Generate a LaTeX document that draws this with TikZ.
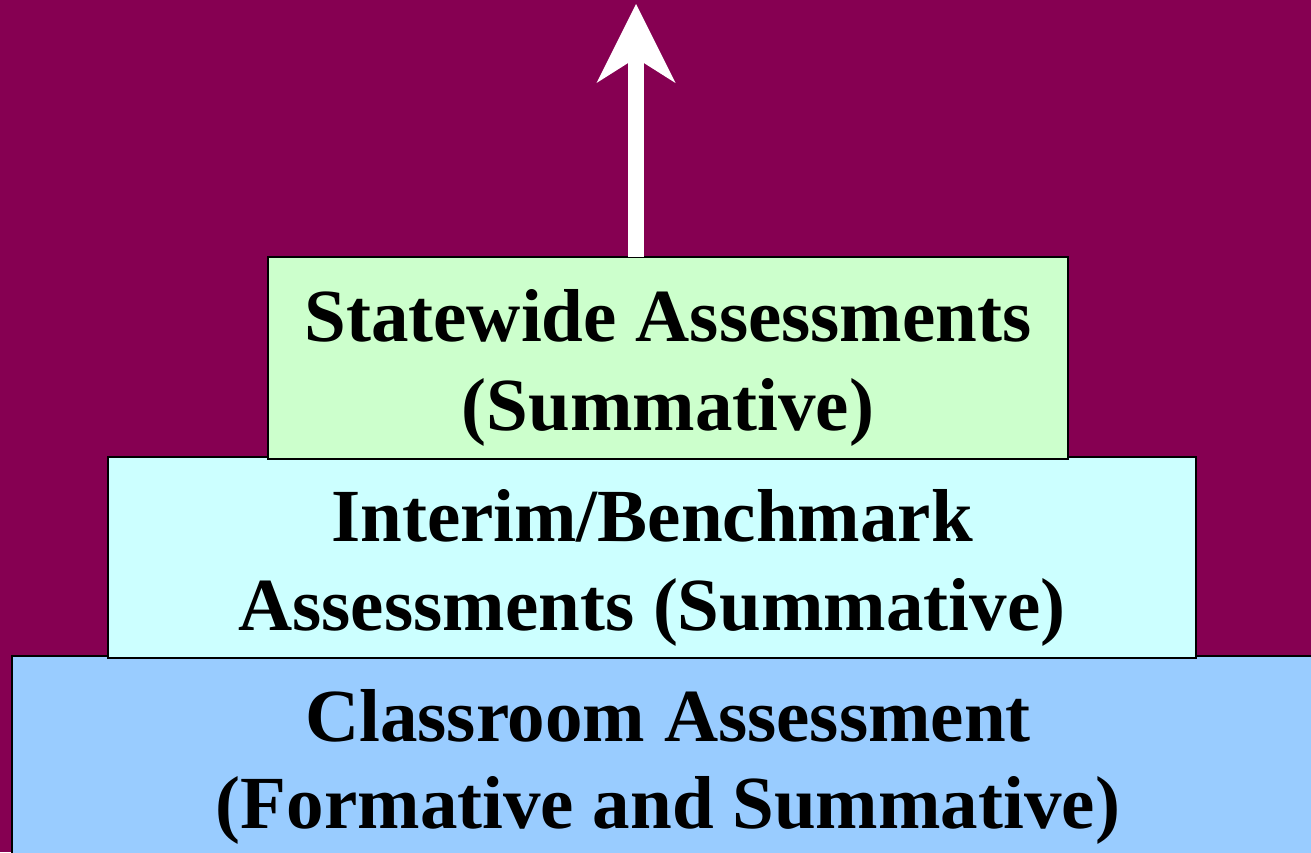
\documentclass[tikz,border=0pt]{standalone}
\usepackage{fontspec}
\setmainfont{Liberation Serif}
\usetikzlibrary{arrows.meta}
\definecolor{bgmaroon}{RGB}{134,0,82}
\definecolor{stategreen}{RGB}{204,255,204}
\definecolor{interimcyan}{RGB}{204,255,255}
\definecolor{classblue}{RGB}{153,204,255}
\tikzset{
  tier/.style={draw=black, line width=2.5pt, inner sep=0pt, outer sep=0pt, anchor=north west},
  tiertext/.style={font=\fontsize{75}{89}\selectfont\bfseries, text=black, anchor=base, inner sep=0pt},
  uparrow/.style={draw=white, line width=16pt, line cap=butt,
    -{Stealth[length=79pt, width=79pt, inset=25pt, line width=0pt]}}
}
\begin{document}
\begin{tikzpicture}[x=1pt,y=-1pt]
\useasboundingbox (0,0) rectangle (1311,852);
\fill[bgmaroon] (0,0) rectangle (1311,852);
% boxes
\node[tier, fill=classblue, minimum width=1318pt, minimum height=214pt] (classbox) at (12,656) {};
\node[tier, fill=interimcyan, minimum width=1088pt, minimum height=201pt] (interimbox) at (108,457) {};
\node[tier, fill=stategreen, minimum width=800pt, minimum height=202pt] (statebox) at (268,257) {};
% texts
\node[tiertext] (statetexta) at (668,341) {Statewide Assessments};
\node[tiertext] (statetextb) at (668,430) {(Summative)};
\node[tiertext] (interimtexta) at (652,541) {Interim/Benchmark};
\node[tiertext] (interimtextb) at (652,630) {Assessments (Summative)};
\node[tiertext] (classtexta) at (668,741) {Classroom Assessment};
\node[tiertext] (classtextb) at (668,828) {(Formative and Summative)};
% arrow
\coordinate (tip) at (636,4);
\draw[uparrow] (tip |- statebox.north) -- (tip);
\end{tikzpicture}
\end{document}
